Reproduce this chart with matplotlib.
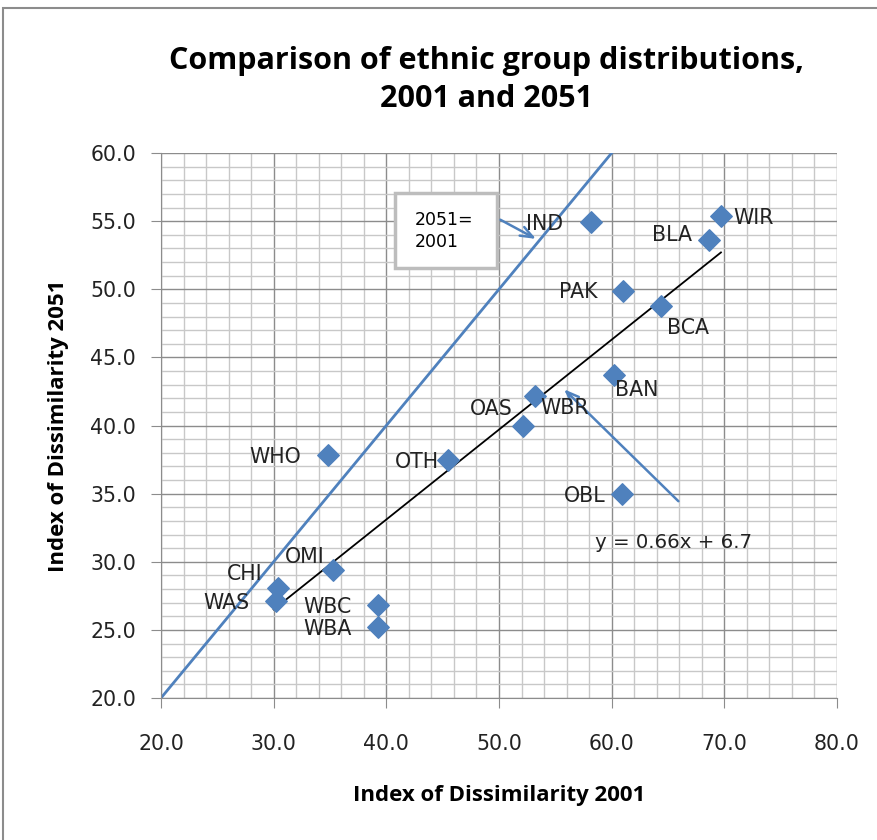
import numpy as np
import matplotlib.pyplot as plt
from matplotlib.patches import Rectangle

# ethnic groups, index of dissimilarity in 2001 and 2051
groups = ['WIR', 'BLA', 'IND', 'PAK', 'BCA', 'BAN', 'WBR', 'OAS',
          'OTH', 'WHO', 'OBL', 'OMI', 'CHI', 'WAS', 'WBC', 'WBA']
d2001 = [69.7, 68.6, 58.2, 61.0, 64.4, 60.2, 53.2, 52.1,
         45.5, 34.8, 60.9, 35.3, 30.4, 30.2, 39.3, 39.3]
d2051 = [55.4, 53.6, 54.9, 49.9, 48.8, 43.7, 42.2, 40.0,
         37.5, 37.8, 35.0, 29.4, 28.1, 27.1, 26.8, 25.2]

# linear trend shown on the chart
slope, intercept = 0.66, 6.7

xticks = [20, 30, 40, 50, 60, 70, 80]
yticks = [20, 25, 30, 35, 40, 45, 50, 55, 60]

# label offsets (points) and alignment
lab = {
    'WIR': (9, -2, 'left'), 'BLA': (-12, 4, 'right'), 'IND': (-20, -1, 'right'),
    'PAK': (-18, -1, 'right'), 'BCA': (4, -16, 'left'), 'BAN': (1, -11, 'left'),
    'WBR': (4, -9, 'left'), 'OAS': (-7, 12, 'right'), 'OTH': (-7, -2, 'right'),
    'WHO': (-19, -1, 'right'), 'OBL': (-12, -2, 'right'), 'OMI': (-6, 9, 'right'),
    'CHI': (-11, 10, 'right'), 'WAS': (-19, -1, 'right'), 'WBC': (-19, -1, 'right'),
    'WBA': (-19, -1, 'right'),
}

plt.rcParams['font.family'] = ['DejaVu Sans']
bold_font = ['Open Sans', 'DejaVu Sans']
blue = '#4F81BD'

fig = plt.figure(figsize=(8.77, 8.40), dpi=100)
ax = fig.add_axes([161/877, 1-698/840, 676/877, 545/840])

ax.set_xlim(20, 80)
ax.set_ylim(20, 60)
ax.set_xticks(xticks)
ax.set_yticks(yticks)
ax.set_xticks(np.arange(20, 81, 2), minor=True)
ax.set_yticks(np.arange(20, 61, 1), minor=True)
ax.set_xticklabels(['%.1f' % v for v in xticks])
ax.set_yticklabels(['%.1f' % v for v in yticks])
ax.grid(which='major', color='#8c8c8c', lw=1)
ax.grid(which='minor', color='#c8c8c8', lw=1)
ax.set_axisbelow(True)
ax.tick_params(which='major', direction='out', length=7, color='#8c8c8c',
               labelsize=14.8, labelcolor='#222222', pad=11)
ax.tick_params(axis='x', pad=19)
ax.tick_params(which='minor', length=0)
for s in ['top', 'right']:
    ax.spines[s].set_visible(False)
for s in ['left', 'bottom']:
    ax.spines[s].set_color('#8c8c8c')

# 2051 = 2001 line
ax.plot([20, 60], [20, 60], color=blue, lw=2, zorder=2)

# trend line over the data range
xs = np.array([30, max(d2001)])
ax.plot(xs, slope*xs + intercept, color='black', lw=1.3, zorder=2)

ax.scatter(d2001, d2051, marker='D', s=120, color=blue, zorder=3)

for g, x, y in zip(groups, d2001, d2051):
    dx, dy, ha = lab[g]
    ax.annotate(g, (x, y), xytext=(dx, dy), textcoords='offset points',
                ha=ha, va='center', fontsize=14.8, color='#222222', zorder=4)

# text box with arrow to the 45 degree line
ax.add_patch(Rectangle((0.346, 0.789), 0.151, 0.138, transform=ax.transAxes,
                       fc='white', ec='#bdbdbd', lw=2.5, zorder=4))
ax.text(0.376, 0.857, '2051=\n2001', transform=ax.transAxes, fontsize=12.5,
        ha='left', va='center', linespacing=1.3, zorder=5)
ax.annotate('', xy=(53.5, 53.6), xytext=(49.9, 55.2),
            arrowprops=dict(arrowstyle='->,head_length=0.9,head_width=0.35',
                            color=blue, lw=1.8))

# equation with arrow to trend line
ax.text(58.5, 31.4, 'y = 0.66x + 6.7', fontsize=14.2, color='#222222',
        ha='left', va='center')
ax.annotate('', xy=(55.6, 42.8), xytext=(66.1, 34.3),
            arrowprops=dict(arrowstyle='->,head_length=0.9,head_width=0.35',
                            color=blue, lw=1.8))

ax.set_xlabel('Index of Dissimilarity 2001', fontsize=16, fontweight='bold',
              family=bold_font, labelpad=22)
ax.set_ylabel('Index of Dissimilarity 2051', fontsize=16, fontweight='bold',
              family=bold_font, labelpad=15)
fig.text(0.555, 0.905, 'Comparison of ethnic group distributions,\n2001 and 2051',
         ha='center', va='center', fontsize=22, fontweight='bold',
         family=bold_font, linespacing=1.35)

fig.patches.append(Rectangle((3/877, -0.05), 1.1, 1-8/840+0.05,
                             transform=fig.transFigure, fill=False,
                             ec='#8c8c8c', lw=1.5))

fig.savefig('out.png', dpi=100)
